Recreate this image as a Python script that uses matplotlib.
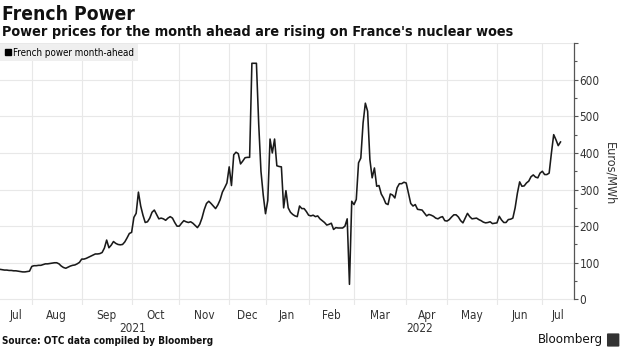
import numpy as np
import matplotlib.pyplot as plt
from matplotlib.lines import Line2D
from matplotlib.patches import FancyBboxPatch
import matplotlib.transforms as mtransforms

plt.rcParams['font.family'] = ['DejaVu Sans']
plt.rcParams['font.stretch'] = 'condensed'

# month-ahead price per trading day, one list per month (EUR/MWh)
jul21 = [82, 81, 80, 80, 79, 79, 78, 78, 77, 76, 75, 75, 76, 77]
aug21 = [90, 92, 92, 93, 93, 95, 97, 97, 98, 99, 100, 100, 97, 91, 87, 85, 88, 91, 93, 94, 97, 101]
sep21 = [110, 110, 112, 115, 118, 121, 124, 124, 125, 128, 140, 162, 141, 148, 158, 153, 150, 149, 150, 157, 168, 180]
oct21 = [183, 224, 235, 293, 255, 230, 210, 212, 222, 238, 244, 232, 220, 222, 220, 216, 222, 226, 222, 210, 200]
nov21 = [200, 208, 215, 212, 210, 212, 208, 202, 196, 205, 222, 245, 262, 268, 262, 255, 248, 258, 272, 293, 305, 318]
dec21 = [362, 311, 395, 402, 398, 370, 378, 387, 388, 388, 645, 645, 645, 480, 350, 285]
jan22 = [234, 270, 438, 400, 438, 365, 363, 362, 250, 297, 250, 238, 232, 228, 226, 255, 248, 248, 240]
feb22 = [230, 228, 230, 226, 228, 220, 215, 210, 203, 205, 208, 191, 196, 195, 195, 195, 200, 220, 41, 268]
mar22 = [259, 273, 373, 386, 482, 536, 514, 382, 332, 359, 309, 311, 288, 277, 262, 259, 288, 285, 277, 305, 316, 316, 320]
apr22 = [318, 290, 262, 255, 259, 246, 245, 244, 236, 228, 232, 230, 227, 222, 220, 224, 226, 215]
may22 = [214, 218, 225, 231, 231, 225, 215, 209, 222, 235, 226, 220, 221, 222, 218, 215, 211, 209, 210, 212, 207, 208]
jun22 = [209, 227, 217, 210, 210, 218, 219, 222, 250, 290, 321, 309, 310, 318, 323, 335, 340, 334, 332, 345]
jul22 = [350, 341, 341, 345, 400, 450, 436, 420, 430]

months = [jul21, aug21, sep21, oct21, nov21, dec21, jan22, feb22, mar22, apr22, may22, jun22, jul22]
month_names = ["Jul", "Aug", "Sep", "Oct", "Nov", "Dec", "Jan", "Feb", "Mar", "Apr", "May", "Jun", "Jul"]
years = ["2021", "2022"]

prices = np.concatenate(months)
x = np.arange(len(prices))

fig = plt.figure(figsize=(6.2, 3.48), dpi=100)
ax = fig.add_axes([0.0, 0.124, 0.926, 0.752])

ax.plot(x, prices, color="#1a1a1a", lw=1.15)

x_right = len(prices) + 5
ax.set_xlim(0, x_right)
ax.set_ylim(-15, 700)

# month boundaries and label positions
starts = np.cumsum([0] + [len(m) for m in months[:-1]])
ends = np.append(starts[1:], x_right)
mids = (starts + np.minimum(ends, x_right)) / 2
ax.set_xticks(starts[1:], minor=True)
ax.set_xticks(mids)
ax.set_xticklabels(month_names, fontsize=8.5, color="#333333")
ax.tick_params(axis="x", which="both", length=0, pad=3)
ax.grid(True, axis="x", which="minor", color="#e8e8e8", lw=0.8)

# year labels under the months
trans = mtransforms.blended_transform_factory(ax.transData, ax.transAxes)
jan_idx = starts[6]
ax.text(jan_idx / 2, -0.09, years[0], transform=trans, ha="center", va="center",
        fontsize=8.5, color="#333333")
ax.text((jan_idx + x_right) / 2, -0.09, years[1], transform=trans, ha="center", va="center",
        fontsize=8.5, color="#333333")

# right-hand y axis
ax.yaxis.tick_right()
ax.yaxis.set_label_position("right")
ax.set_yticks(np.arange(0, 701, 100))
ax.set_yticklabels([str(v) for v in range(0, 601, 100)] + [""], fontsize=8.5, color="#333333")
ax.set_yticks(np.arange(50, 700, 100), minor=True)
ax.tick_params(axis="y", which="major", length=3, width=0.8, color="#555555", pad=1)
ax.tick_params(axis="y", which="minor", length=2, width=0.8, color="#555555")
ax.grid(True, axis="y", which="major", color="#e8e8e8", lw=0.8)
ax.set_ylabel("Euros/MWh", rotation=-90, labelpad=12, fontsize=9, color="#333333")

for s in ["left", "top", "bottom"]:
    ax.spines[s].set_visible(False)
ax.spines["right"].set_color("#555555")
ax.spines["right"].set_linewidth(0.9)
ax.spines["right"].set_bounds(0, 700)
ax.set_axisbelow(True)

handle = Line2D([], [], color="black", marker="s", markersize=4.5, lw=0)
leg = ax.legend([handle], ["French power month-ahead"], loc="upper left",
                bbox_to_anchor=(0, 0.998), fontsize=7, frameon=True, fancybox=False,
                handletextpad=0.1, handlelength=0.8, borderpad=0.4, borderaxespad=0)
leg.get_frame().set_facecolor("#efefef")
leg.get_frame().set_edgecolor("none")
leg.get_frame().set_alpha(1)

fig.text(0.004, 0.985, "French Power", fontsize=13.8, fontweight="bold", va="top", color="#111111")
fig.text(0.004, 0.927, "Power prices for the month ahead are rising on France's nuclear woes",
         fontsize=10.4, fontweight="bold", va="top", color="#111111")
fig.text(0.004, 0.02, "Source: OTC data compiled by Bloomberg", fontsize=7.2,
         fontweight="bold", va="center", color="#111111")
fig.text(0.973, 0.025, "Bloomberg", fontsize=9.5, ha="right", va="center", color="#111111")
fig.patches.append(FancyBboxPatch((0.981, 0.006), 0.016, 0.034, boxstyle="round,pad=0.002",
                                  transform=fig.transFigure, facecolor="#333333",
                                  edgecolor="none"))

fig.savefig("out.png", dpi=100)
